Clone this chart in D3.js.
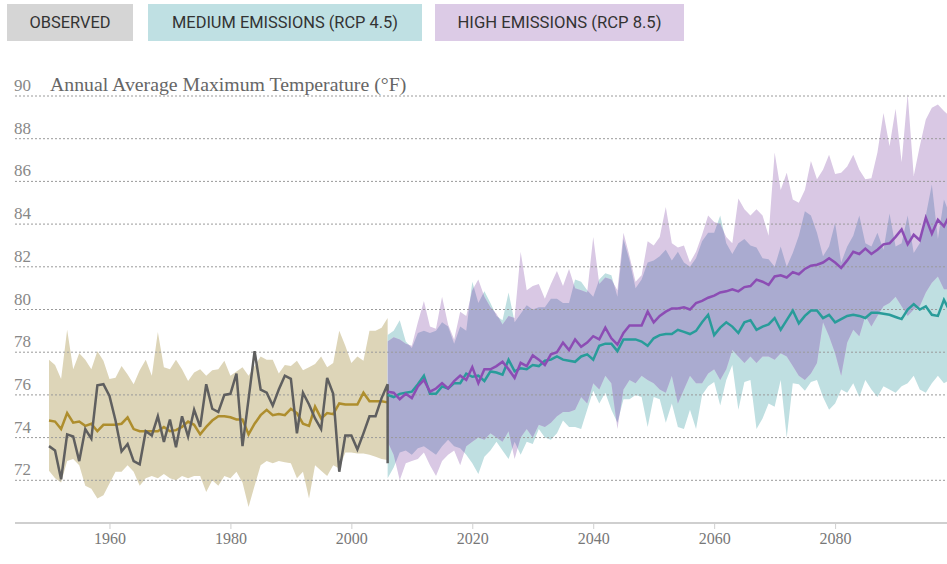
<!DOCTYPE html>
<html>
<head>
<meta charset="utf-8">
<script src="https://cdn.jsdelivr.net/npm/d3@7"></script>
<style>
  body { margin: 0; background: #fff; }
  svg { display: block; }
</style>
</head>
<body>
<svg id="chart" width="947" height="564"></svg>
<script>
// ---- data ----
const histStart = 1950;
const projStart = 2006;

const observed = [73.6, 73.4, 72.05, 74.15, 74.05, 72.9, 74.4, 73.95, 76.45, 76.5,
  75.95, 74.8, 73.35, 73.7, 72.9, 72.75, 74.3, 74.1, 75.0, 73.8,
  74.85, 73.55, 75.0, 74.05, 75.3, 74.5, 76.5, 75.35, 75.2, 76.0,
  76.05, 77.0, 73.6, 75.8, 78.05, 76.25, 76.1, 75.5, 76.25, 76.9,
  76.75, 74.2, 76.1, 75.55, 74.9, 74.4, 76.8, 76.05, 72.4, 74.1,
  74.1, 73.45, 74.2, 75.0, 75.0, 75.85, 76.5];
const observedDrop = 72.8;

const histMean = [74.8, 74.75, 74.4, 75.15, 74.7, 74.75, 74.55, 74.65, 74.3, 74.6,
  74.6, 74.6, 74.65, 74.95, 74.4, 74.3, 74.3, 74.3, 74.3, 74.5,
  74.3, 74.35, 74.5, 74.75, 74.6, 74.15, 74.5, 74.8, 75.0, 75.0,
  74.95, 74.85, 74.85, 74.15, 74.65, 75.05, 75.3, 75.05, 75.1, 75.05,
  75.35, 75.15, 74.65, 74.55, 75.45, 74.9, 75.15, 75.1, 75.6, 75.55,
  75.55, 75.55, 76.1, 75.7, 75.7, 75.7, 75.65];
const histUpper = [77.65, 77.4, 76.75, 79.05, 77.2, 77.95, 77.65, 77.2, 78.05, 77.6,
  76.75, 76.8, 77.35, 76.95, 76.5, 77.15, 77.65, 76.9, 78.95, 77.3,
  77.2, 77.65, 77.2, 76.65, 77.05, 77.2, 76.9, 77.15, 77.2, 77.6,
  76.9, 77.1, 77.3, 76.9, 77.35, 77.8, 77.65, 77.65, 77.0, 77.4,
  77.35, 77.6, 77.15, 77.3, 77.45, 77.8, 77.3, 77.5, 79.0, 78.3,
  77.5, 77.8, 77.6, 79.0, 79.0, 79.15, 79.6];
const histLower = [72.45, 72.1, 71.9, 72.9, 73.0, 72.7, 71.75, 71.6, 71.15, 71.3,
  71.85, 72.4, 72.4, 72.7, 72.4, 71.75, 72.1, 72.2, 72.1, 72.3,
  72.1, 72.0, 72.2, 72.1, 72.2, 72.2, 71.45, 72.0, 71.75, 72.2,
  72.1, 72.4, 71.9, 70.75, 71.75, 72.7, 72.9, 72.8, 72.9, 72.85,
  72.8, 72.1, 72.4, 71.15, 72.7, 72.45, 72.2, 72.7, 72.55, 73.3,
  73.3, 73.25, 73.25, 73.2, 73.1, 73.0, 72.95];

// 2006 - 2099
const rcp45Mean = [76.0, 75.9, 76.05, 76.1, 76.15, 76.5, 76.9, 76.05, 76.05, 76.4,
  76.3, 76.55, 76.55, 77.0, 76.85, 76.9, 76.65, 77.1, 77.05, 76.95,
  77.65, 77.1, 77.25, 77.2, 77.4, 77.35, 77.6, 77.65, 77.8, 77.65,
  77.6, 77.55, 77.8, 77.9, 77.65, 78.3, 78.4, 78.4, 78.05, 78.6,
  78.6, 78.6, 78.5, 78.3, 78.65, 78.8, 78.85, 78.85, 79.05, 78.95,
  78.85, 79.0, 79.4, 79.75, 78.8, 79.15, 79.4, 79.2, 78.9, 79.4,
  79.5, 79.05, 79.2, 79.3, 79.6, 79.05, 79.5, 79.95, 79.35, 79.7,
  79.95, 79.95, 79.6, 79.75, 79.4, 79.55, 79.7, 79.75, 79.7, 79.6,
  79.85, 79.85, 79.8, 79.75, 79.65, 79.55, 80.0, 80.25, 80.0, 80.15,
  79.75, 79.7, 80.45, 79.9];
const rcp45Upper = [78.8, 79.0, 79.5, 78.5, 78.2, 78.9, 79.0, 78.9, 79.0, 79.4,
  79.2, 78.4, 79.2, 79.0, 81.3, 80.3, 80.85, 80.3, 79.7, 79.5,
  80.8, 79.4, 79.8, 80.2, 80.0, 80.1, 80.1, 80.5, 80.5, 80.3,
  80.3, 81.4, 81.3, 80.9, 80.6, 81.4, 81.7, 81.6, 80.6, 83.3,
  82.3, 81.0, 81.4, 82.2, 82.3, 82.5, 82.8, 82.3, 82.7, 82.2,
  82.0, 82.4, 83.2, 83.6, 83.6, 84.4, 83.1, 82.6, 83.1, 83.3,
  83.0, 82.9, 82.4, 82.35, 82.0, 82.95, 82.0, 82.65, 83.45, 84.6,
  84.4, 83.6, 82.5, 82.95, 84.05, 82.2, 82.95, 83.45, 84.4, 83.1,
  82.95, 83.6, 82.8, 84.5, 82.95, 83.1, 84.4, 82.65, 83.1, 84.4,
  85.85, 83.3, 85.15, 84.4];
const rcp45Lower = [72.1, 72.6, 73.3, 73.4, 73.2, 73.5, 73.6, 73.4, 73.2, 73.6,
  73.9, 73.6, 73.5, 73.2, 72.8, 72.3, 73.1, 73.4, 73.8, 73.4,
  73.0, 73.8, 73.2, 73.8, 73.7, 74.4, 74.0, 73.9, 74.2, 74.8,
  74.5, 74.5, 74.4, 75.3, 76.2, 75.6, 76.1, 75.3, 74.7, 75.8,
  75.8, 76.0, 75.9, 74.5, 75.9, 75.8, 74.7, 75.6, 74.5, 74.4,
  75.3, 74.4, 76.0, 76.4, 76.6, 75.5, 76.7, 77.4, 75.3, 76.6,
  76.7, 74.4, 74.9, 75.6, 75.45, 76.7, 74.0, 76.55, 76.5, 76.2,
  76.6, 76.7, 75.9, 75.3, 75.6, 76.25, 76.1, 76.55, 75.9, 76.7,
  76.25, 75.9, 76.4, 76.25, 76.1, 76.4, 76.55, 76.9, 76.25, 76.1,
  76.55, 76.9, 76.55, 76.7];

const rcp85Mean = [76.15, 76.1, 75.8, 76.05, 75.85, 76.4, 76.7, 76.15, 76.3, 76.55,
  76.3, 76.65, 76.9, 76.7, 77.3, 76.55, 77.2, 77.2, 77.35, 77.55,
  77.2, 76.8, 77.5, 77.35, 77.85, 77.65, 77.4, 77.9, 78.0, 78.45,
  78.1, 78.6, 78.25, 78.45, 78.75, 78.6, 79.15, 78.65, 78.35, 78.9,
  79.25, 79.25, 79.25, 79.9, 79.4, 79.7, 79.9, 80.05, 80.05, 80.1,
  80.0, 80.3, 80.4, 80.55, 80.65, 80.8, 80.85, 80.95, 80.85, 81.05,
  81.1, 81.4, 81.3, 81.15, 81.55, 81.6, 81.5, 81.75, 81.65, 81.9,
  82.05, 82.1, 82.2, 82.4, 82.2, 81.95, 82.3, 82.7, 82.6, 82.85,
  82.6, 82.8, 83.05, 83.1, 83.4, 83.75, 83.05, 83.5, 83.25, 84.3,
  83.55, 84.2, 83.9, 84.45];
const rcp85Upper = [78.5, 78.7, 78.6, 78.4, 78.3, 79.4, 80.4, 79.2, 79.1, 80.6,
  79.3, 78.6, 79.9, 79.7, 80.9, 81.4, 80.6, 80.1, 79.8, 79.3,
  79.7, 79.6, 82.7, 80.9, 81.1, 81.2, 80.5, 81.2, 81.8, 81.1,
  81.9, 81.0, 80.9, 80.8, 83.4, 81.2, 81.5, 81.4, 80.9, 83.6,
  82.5, 81.3, 81.6, 83.2, 83.0, 83.4, 84.8, 83.1, 82.9, 83.0,
  82.2, 82.7, 83.5, 84.4, 84.1, 84.0, 83.4, 83.1, 85.2, 84.7,
  84.4, 84.7, 84.4, 83.45, 87.35, 85.6, 86.4, 85.15, 85.0, 85.6,
  86.95, 86.1, 86.55, 87.25, 86.35, 86.4, 86.7, 87.25, 86.55, 86.1,
  86.15, 87.35, 89.2, 87.65, 89.4, 86.9, 90.1, 86.25, 87.65, 88.9,
  89.45, 89.6, 89.3, 89.05];
const rcp85Lower = [73.8, 73.2, 72.0, 72.8, 72.9, 73.0, 73.3, 72.7, 72.2, 72.9,
  73.2, 73.4, 72.7, 73.6, 73.8, 74.0, 73.9, 74.2, 74.0, 73.8,
  74.3, 73.0, 74.0, 74.4, 74.0, 74.6, 74.5, 74.7, 75.0, 75.2,
  75.2, 75.3, 75.9, 75.6, 76.55, 76.25, 76.9, 76.55, 74.4, 76.25,
  76.7, 76.55, 76.9, 76.7, 76.55, 76.25, 76.1, 76.9, 75.6, 76.25,
  76.9, 76.55, 76.55, 77.0, 77.2, 76.7, 77.2, 78.1, 77.8, 77.5,
  77.8, 77.5, 77.8, 77.8, 77.65, 77.95, 77.8, 77.35, 76.9, 76.7,
  77.0, 77.5, 79.4, 78.75, 77.95, 76.9, 78.45, 79.05, 78.75, 79.7,
  79.2, 79.7, 80.15, 80.3, 80.6, 80.15, 79.7, 80.0, 80.15, 80.8,
  81.25, 81.55, 80.95, 80.95];

const yTicks = [72, 74, 76, 78, 80, 82, 84, 86, 88, 90];
const xTicks = [1960, 1980, 2000, 2020, 2040, 2060, 2080];
const legendItems = ["OBSERVED", "MEDIUM EMISSIONS (RCP 4.5)", "HIGH EMISSIONS (RCP 8.5)"];
const title = "Annual Average Maximum Temperature (°F)";

// ---- layout ----
const W = 947, H = 564;
const serif = "'Liberation Serif', 'Times New Roman', serif";
const svg = d3.select("#chart");

const x = d3.scaleLinear().domain([1950, 2099]).range([49, 950]);
const y = d3.scaleLinear().domain([70, 90]).range([523, 96]);

const histRows = histMean.map((v, i) => ({
  year: histStart + i, obs: observed[i], mean: v, lo: histLower[i], hi: histUpper[i]
}));
const projRows = rcp45Mean.map((v, i) => ({
  year: projStart + i,
  m45: v, lo45: rcp45Lower[i], hi45: rcp45Upper[i],
  m85: rcp85Mean[i], lo85: rcp85Lower[i], hi85: rcp85Upper[i]
}));

// ---- legend buttons ----
const legend = [
  { label: legendItems[0], x: 7, w: 126, fill: "#d5d5d5", tw: 81 },
  { label: legendItems[1], x: 148, w: 274, fill: "#bfe0e3", tw: 226 },
  { label: legendItems[2], x: 435, w: 249, fill: "#dccbe6", tw: 204 }
];
const lg = svg.append("g").attr("class", "legend");
lg.selectAll("rect").data(legend).enter().append("rect")
  .attr("x", d => d.x).attr("y", 4)
  .attr("width", d => d.w).attr("height", 37)
  .attr("fill", d => d.fill);
lg.selectAll("text").data(legend).enter().append("text")
  .attr("x", d => d.x + d.w / 2).attr("y", 28)
  .attr("text-anchor", "middle")
  .attr("textLength", d => d.tw)
  .attr("lengthAdjust", "spacingAndGlyphs")
  .style("font-family", "Roboto, 'Liberation Sans', sans-serif")
  .style("font-size", "16px")
  .attr("fill", "#333")
  .text(d => d.label);

// ---- bands ----
const band = (lo, hi) => d3.area()
  .x(d => x(d.year)).y0(d => y(d[lo])).y1(d => y(d[hi]));

svg.append("path").datum(histRows)
  .attr("d", band("lo", "hi"))
  .attr("fill", "#ddd5b8");

const defs = svg.append("defs");
defs.append("clipPath").attr("id", "clip45")
  .append("path").datum(projRows).attr("d", band("lo45", "hi45"));

svg.append("path").datum(projRows)
  .attr("d", band("lo45", "hi45"))
  .attr("fill", "#bfdfe1");
svg.append("path").datum(projRows)
  .attr("d", band("lo85", "hi85"))
  .attr("fill", "#d9c8e4");
// overlap of the two ranges
svg.append("path").datum(projRows)
  .attr("d", band("lo85", "hi85"))
  .attr("clip-path", "url(#clip45)")
  .attr("fill", "#aaabd0");

// ---- grid ----
const grid = svg.append("g").attr("class", "grid");
grid.selectAll("line").data(yTicks).enter().append("line")
  .attr("x1", 15).attr("x2", W)
  .attr("y1", d => y(d)).attr("y2", d => y(d))
  .attr("stroke", "#9a9a9a")
  .attr("stroke-width", 1)
  .attr("stroke-dasharray", "2,2");
grid.selectAll("text").data(yTicks).enter().append("text")
  .attr("x", 14).attr("y", d => y(d) - 5)
  .style("font-family", serif)
  .style("font-size", "17px")
  .attr("fill", "#888")
  .text(d => d);

svg.append("text")
  .attr("x", 50).attr("y", y(90) - 5)
  .style("font-family", serif)
  .style("font-size", "19.8px")
  .attr("fill", "#666")
  .text(title);

// ---- x axis ----
const xAxis = svg.append("g").attr("transform", `translate(0,${y(70)})`)
  .call(d3.axisBottom(x).tickValues(xTicks).tickFormat(d3.format("d")).tickSize(6).tickPadding(4));
xAxis.select(".domain").remove();
xAxis.insert("line", ":first-child")
  .attr("x1", 15).attr("x2", W)
  .attr("stroke", "#cfcfcf").attr("stroke-width", 2);
xAxis.selectAll(".tick line").attr("stroke", "#cfcfcf");
xAxis.selectAll(".tick text")
  .style("font-family", serif)
  .style("font-size", "16px")
  .attr("fill", "#777");

// ---- lines ----
const line = key => d3.line().x(d => x(d.year)).y(d => y(d[key]));

svg.append("path").datum(histRows)
  .attr("d", line("mean"))
  .attr("fill", "none").attr("stroke", "#ae8e2e").attr("stroke-width", 2.5);

const obsRows = histRows.concat([{ year: projStart, obs: observedDrop }]);
svg.append("path").datum(obsRows)
  .attr("d", line("obs"))
  .attr("fill", "none").attr("stroke", "#5f5f5f").attr("stroke-width", 2.5)
  .attr("stroke-linejoin", "miter");

svg.append("path").datum(projRows)
  .attr("d", line("m45"))
  .attr("fill", "none").attr("stroke", "#299c9a").attr("stroke-width", 2.5);
svg.append("path").datum(projRows)
  .attr("d", line("m85"))
  .attr("fill", "none").attr("stroke", "#8c4db4").attr("stroke-width", 2.5);
</script>
</body>
</html>
